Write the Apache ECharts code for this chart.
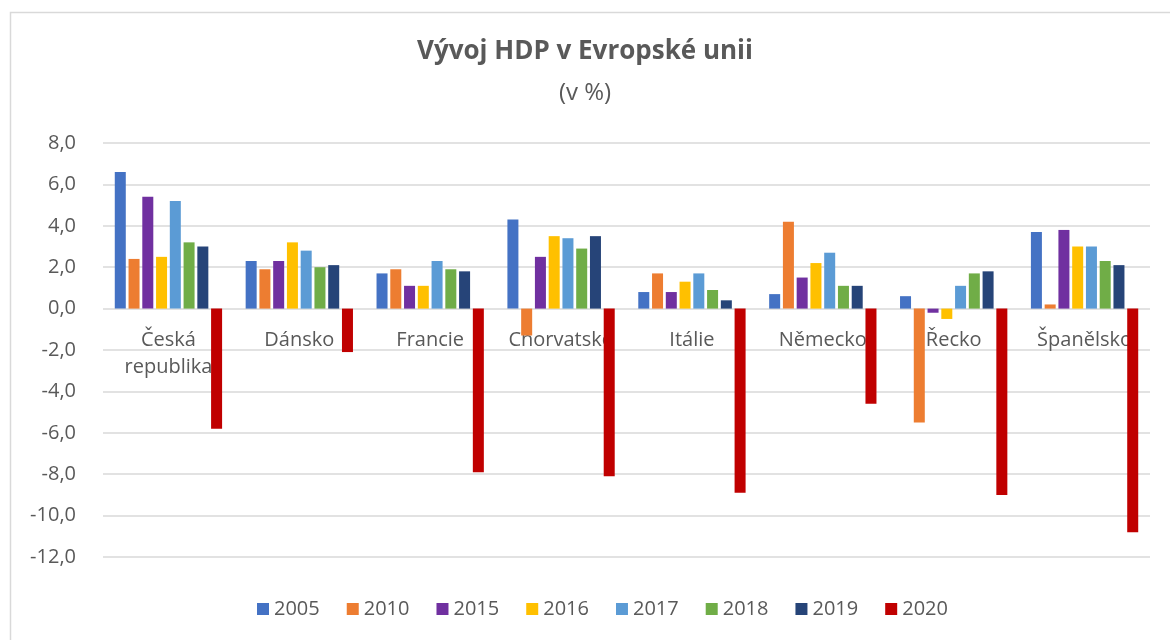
<!DOCTYPE html>
<html>
<head>
<meta charset="utf-8">
<script src="https://cdn.jsdelivr.net/npm/echarts@6/dist/echarts.min.js"></script>
<style>
	html, body { margin: 0; padding: 0; background: #fff; }
	#chart { width: 1170px; height: 640px; }
</style>
</head>
<body>
<div id="chart"></div>
<script>
	// data
	var countries = ['Česká\nrepublika', 'Dánsko', 'Francie', 'Chorvatsko', 'Itálie', 'Německo', 'Řecko', 'Španělsko']
	var years = ['2005', '2010', '2015', '2016', '2017', '2018', '2019', '2020']
	var y2005 = [6.6, 2.3, 1.7, 4.3, 0.8, 0.7, 0.6, 3.7]
	var y2010 = [2.4, 1.9, 1.9, -1.3, 1.7, 4.2, -5.5, 0.2]
	var y2015 = [5.4, 2.3, 1.1, 2.5, 0.8, 1.5, -0.2, 3.8]
	var y2016 = [2.5, 3.2, 1.1, 3.5, 1.3, 2.2, -0.5, 3.0]
	var y2017 = [5.2, 2.8, 2.3, 3.4, 1.7, 2.7, 1.1, 3.0]
	var y2018 = [3.2, 2.0, 1.9, 2.9, 0.9, 1.1, 1.7, 2.3]
	var y2019 = [3.0, 2.1, 1.8, 3.5, 0.4, 1.1, 1.8, 2.1]
	var y2020 = [-5.8, -2.1, -7.9, -8.1, -8.9, -4.6, -9.0, -10.8]
	var colors = ['#4472C4', '#ED7D31', '#7030A0', '#FFC000', '#5B9BD5', '#70AD47', '#264478', '#C00000']
	var yMin = -12, yMax = 8, yStep = 2

	var values = [y2005, y2010, y2015, y2016, y2017, y2018, y2019, y2020]
	var font = '"Open Sans", "Noto Sans", sans-serif'

	var gridTop = 143, gridBottom = 83
	var gridHeight = 640 - gridTop - gridBottom
	// category labels sit under the zero line, like in Excel
	var zeroOffset = -(0 - yMin) / (yMax - yMin) * gridHeight

	var chart = echarts.init(document.getElementById('chart'))
	var option = {
		animation: false,
		color: colors,
		textStyle: { fontFamily: font },
		graphic: [{
			type: 'rect',
			left: 8, top: 10,
			shape: { width: 1200, height: 700 },
			style: { fill: 'none', stroke: '#d9d9d9', lineWidth: 1.5 },
			silent: true
		}],
		title: [
			{
				text: 'Vývoj HDP v Evropské unii',
				left: 'center', top: 34,
				textStyle: { fontSize: 26, fontWeight: 'bold', color: '#595959', fontFamily: font }
			},
			{
				text: '(v %)',
				left: 'center', top: 76,
				textStyle: { fontSize: 24, fontWeight: 'normal', color: '#595959', fontFamily: font }
			}
		],
		legend: {
			data: years,
			top: 594,
			left: 252,
			itemWidth: 12,
			itemHeight: 12,
			itemGap: 27,
			icon: 'rect',
			textStyle: { fontSize: 20, color: '#595959', fontFamily: font }
		},
		grid: { left: 103, right: 20, top: gridTop, bottom: gridBottom, containLabel: false },
		xAxis: {
			type: 'category',
			data: countries,
			offset: zeroOffset,
			axisLine: { show: false },
			axisTick: { show: false },
			axisLabel: { fontSize: 20, color: '#595959', margin: 18, lineHeight: 27, interval: 0, fontFamily: font }
		},
		yAxis: {
			type: 'value',
			min: yMin, max: yMax, interval: yStep,
			axisLine: { show: false },
			axisTick: { show: false },
			splitLine: { lineStyle: { color: '#d9d9d9', width: 1.5 } },
			axisLabel: {
				fontSize: 20, color: '#595959', margin: 27, fontFamily: font,
				formatter: function (v) { return v.toFixed(1).replace('.', ',') }
			}
		},
		series: years.map(function (y, i) {
			return {
				name: y,
				type: 'bar',
				data: values[i],
				barGap: '25%',
				barCategoryGap: '18%',
				itemStyle: { color: colors[i] }
			}
		})
	}
	chart.setOption(option)
</script>
</body>
</html>
